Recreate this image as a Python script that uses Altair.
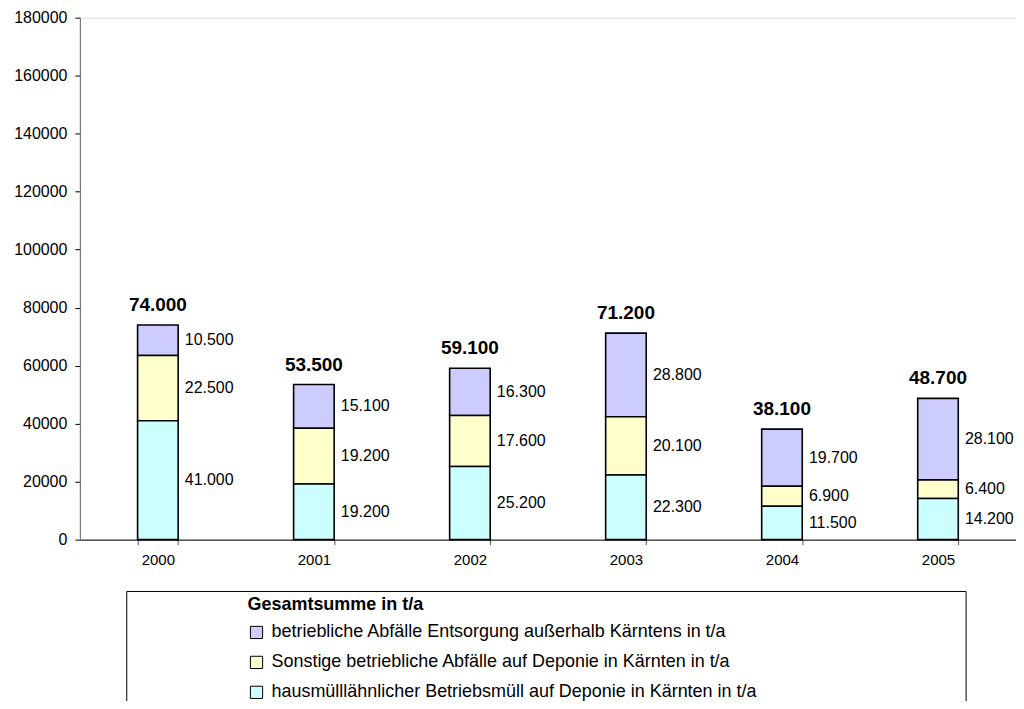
import altair as alt
import pandas as pd

years = ["2000", "2001", "2002", "2003", "2004", "2005"]
series = [
    "betriebliche Abfälle Entsorgung außerhalb Kärntens in t/a",
    "Sonstige betriebliche Abfälle auf Deponie in Kärnten in t/a",
    "hausmülllähnlicher Betriebsmüll auf Deponie in Kärnten in t/a",
]
colors = ["#CCCCFF", "#FFFFCC", "#CCFFFF"]
stack_rank = [2, 1, 0]  # purple on top, cyan at bottom

extern_vals = [10500, 15100, 16300, 28800, 19700, 28100]
sonstige_vals = [22500, 19200, 17600, 20100, 6900, 6400]
haus_vals = [41000, 19200, 25200, 22300, 11500, 14200]

y_ticks = [0, 20000, 40000, 60000, 80000, 100000, 120000, 140000, 160000, 180000]

rows = []
for s, vals, r in zip(series, [extern_vals, sonstige_vals, haus_vals], stack_rank):
    for y, v in zip(years, vals):
        rows.append({"year": y, "series": s, "value": v, "rank": r})
df = pd.DataFrame(rows)

FONT = "Liberation Sans"

x_scale = alt.Scale(paddingInner=0.74, paddingOuter=0.37)
x_enc = alt.X(
    "year:N",
    scale=x_scale,
    axis=alt.Axis(
        title=None, labelAngle=0, labelFontSize=15, labelPadding=8,
        tickBand="extent", tickSize=5, domainColor="#000000", tickColor="#555555",
        labelColor="#000000", labelFont=FONT,
    ),
)

base = alt.Chart(df)

bars = base.mark_bar(stroke="#000000", strokeWidth=1.6).encode(
    x=x_enc,
    y=alt.Y(
        "value:Q",
        stack="zero",
        scale=alt.Scale(domain=[0, 180000], nice=False),
        axis=alt.Axis(
            title=None, values=y_ticks, format="d", grid=False, labelFontSize=16,
            labelPadding=8, tickSize=5, domainColor="#666666", tickColor="#000000",
            labelColor="#000000", labelFont=FONT,
        ),
    ),
    color=alt.Color(
        "series:N",
        scale=alt.Scale(domain=series, range=colors),
        legend=alt.Legend(
            title="Gesamtsumme in t/a", orient="none", legendX=168, legendY=580,
            titleFontSize=18, titleFontWeight="bold", titleFont=FONT, titleColor="#000000",
            titlePadding=9, labelFontSize=18, labelFont=FONT, labelColor="#000000",
            labelLimit=900, symbolType="square", symbolSize=150,
            symbolStrokeColor="#000000", symbolStrokeWidth=1, labelOffset=6,
            rowPadding=12, padding=0,
        ),
    ),
    order=alt.Order("rank:Q", sort="ascending"),
)

seg_labels = (
    base.transform_stack(
        stack="value", groupby=["year"], as_=["y0", "y1"],
        sort=[alt.SortField("rank", order="ascending")],
    )
    .transform_calculate(
        mid="(datum.y0 + datum.y1) / 2",
        label="replace(format(datum.value, ','), ',', '.')",
    )
    .mark_text(align="left", baseline="middle", dx=27, fontSize=16, font=FONT, color="#000000")
    .encode(x=alt.X("year:N", scale=x_scale), y=alt.Y("mid:Q"), text="label:N")
)

totals = (
    base.transform_aggregate(total="sum(value)", groupby=["year"])
    .transform_calculate(label="replace(format(datum.total, ','), ',', '.')")
    .mark_text(align="center", baseline="bottom", dy=-10, fontSize=19, fontWeight="bold",
               font=FONT, color="#000000")
    .encode(x=alt.X("year:N", scale=x_scale), y=alt.Y("total:Q"), text="label:N")
)

legend_box = (
    alt.Chart(pd.DataFrame({"a": [0]}))
    .mark_rect(fill="transparent", stroke="#000000", strokeWidth=1)
    .encode(x=alt.value(47), x2=alt.value(888), y=alt.value(575), y2=alt.value(800))
)

chart = (
    alt.layer(bars, seg_labels, totals, legend_box)
    .properties(
        width=938, height=523,
        autosize=alt.AutoSizeParams(type="none"),
        padding={"left": 72, "top": 9, "right": 0, "bottom": 161},
    )
    .configure_view(stroke=None)
    .configure(font=FONT)
)

chart.save("out.html", embed_options={"renderer": "svg", "actions": False})
